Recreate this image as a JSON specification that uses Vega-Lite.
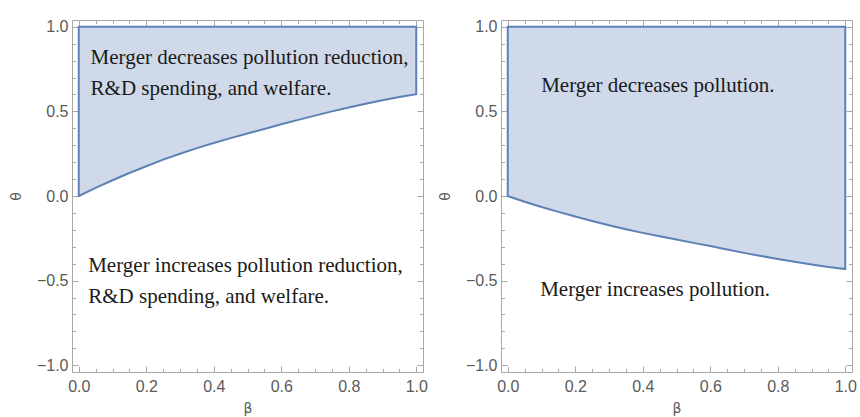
{
  "$schema": "https://vega.github.io/schema/vega-lite/v6.json",
  "background": "white",
  "padding": {"left": 8, "top": 18, "right": 0, "bottom": 0},
  "spacing": 9,
  "datasets": {
    "left": [
      {"beta": 0, "theta": 0}, {"beta": 0.05, "theta": 0.048}, {"beta": 0.1, "theta": 0.093},
      {"beta": 0.15, "theta": 0.136}, {"beta": 0.2, "theta": 0.176}, {"beta": 0.25, "theta": 0.215},
      {"beta": 0.3, "theta": 0.25}, {"beta": 0.35, "theta": 0.283}, {"beta": 0.4, "theta": 0.313},
      {"beta": 0.45, "theta": 0.342}, {"beta": 0.5, "theta": 0.369}, {"beta": 0.55, "theta": 0.396},
      {"beta": 0.6, "theta": 0.424}, {"beta": 0.65, "theta": 0.45}, {"beta": 0.7, "theta": 0.475},
      {"beta": 0.75, "theta": 0.5}, {"beta": 0.8, "theta": 0.523}, {"beta": 0.85, "theta": 0.545},
      {"beta": 0.9, "theta": 0.566}, {"beta": 0.95, "theta": 0.585}, {"beta": 1, "theta": 0.602}
    ],
    "right": [
      {"beta": 0, "theta": 0}, {"beta": 0.05, "theta": -0.034}, {"beta": 0.1, "theta": -0.065},
      {"beta": 0.15, "theta": -0.094}, {"beta": 0.2, "theta": -0.121}, {"beta": 0.25, "theta": -0.148},
      {"beta": 0.3, "theta": -0.173}, {"beta": 0.35, "theta": -0.196}, {"beta": 0.4, "theta": -0.218},
      {"beta": 0.45, "theta": -0.238}, {"beta": 0.5, "theta": -0.257}, {"beta": 0.55, "theta": -0.277},
      {"beta": 0.6, "theta": -0.296}, {"beta": 0.65, "theta": -0.316}, {"beta": 0.7, "theta": -0.336},
      {"beta": 0.75, "theta": -0.354}, {"beta": 0.8, "theta": -0.372}, {"beta": 0.85, "theta": -0.389},
      {"beta": 0.9, "theta": -0.405}, {"beta": 0.95, "theta": -0.419}, {"beta": 1, "theta": -0.432}
    ],
    "labels": [
      {"panel": "left", "beta": 0.035, "theta": 0.815, "text": "Merger decreases pollution reduction,"},
      {"panel": "left", "beta": 0.035, "theta": 0.632, "text": "R&D spending, and welfare."},
      {"panel": "left", "beta": 0.028, "theta": -0.415, "text": "Merger increases pollution reduction,"},
      {"panel": "left", "beta": 0.028, "theta": -0.598, "text": "R&D spending, and welfare."},
      {"panel": "right", "beta": 0.099, "theta": 0.648, "text": "Merger decreases pollution."},
      {"panel": "right", "beta": 0.096, "theta": -0.557, "text": "Merger increases pollution."}
    ]
  },
  "hconcat": [
    {
      "width": 351,
      "height": 352,
      "layer": [
        {
          "data": {"name": "left"},
          "mark": {"type": "area", "fill": "#CFD9E9", "stroke": "#5E81B5", "strokeWidth": 2, "strokeJoin": "miter"},
          "encoding": {
            "x": {"field": "beta", "type": "quantitative", "scale": {"domain": [-0.02, 1.02], "nice": false, "zero": false},
              "axis": {"orient": "bottom", "title": "β", "values": [0,0.05,0.1,0.15,0.2,0.25,0.3,0.35,0.4,0.45,0.5,0.55,0.6,0.65,0.7,0.75,0.8,0.85,0.9,0.95,1],
                "labelExpr": "abs(datum.value*5 - round(datum.value*5)) < 0.000001 ? format(datum.value, '.1f') : ''",
                "tickSize": {"condition": {"test": "abs(datum.value*5 - round(datum.value*5)) < 0.000001", "value": -6}, "value": -3.5},
                "labelPadding": 12, "titlePadding": 7}},
            "y": {"field": "theta", "type": "quantitative", "scale": {"domain": [-1.04, 1.04], "nice": false, "zero": false},
              "axis": {"orient": "left", "title": "θ", "values": [-1,-0.9,-0.8,-0.7,-0.6,-0.5,-0.4,-0.3,-0.2,-0.1,0,0.1,0.2,0.3,0.4,0.5,0.6,0.7,0.8,0.9,1],
                "labelExpr": "abs(datum.value*2 - round(datum.value*2)) < 0.000001 ? format(datum.value, '.1f') : ''",
                "tickSize": {"condition": {"test": "abs(datum.value*2 - round(datum.value*2)) < 0.000001", "value": -6}, "value": -3.5},
                "labelPadding": 10, "titlePadding": 13, "titleAngle": -90}},
            "y2": {"datum": 1}
          }
        },
        {
          "data": {"name": "labels"},
          "transform": [{"filter": "datum.panel === 'left'"}],
          "mark": {"type": "text", "align": "left", "baseline": "middle", "font": "Liberation Serif", "fontSize": 21, "color": "#1a1a1a"},
          "encoding": {
            "x": {"field": "beta", "type": "quantitative", "scale": {"domain": [-0.02, 1.02], "nice": false, "zero": false},
              "axis": {"orient": "top", "title": null, "labels": false, "values": [0,0.05,0.1,0.15,0.2,0.25,0.3,0.35,0.4,0.45,0.5,0.55,0.6,0.65,0.7,0.75,0.8,0.85,0.9,0.95,1],
                "tickSize": {"condition": {"test": "abs(datum.value*5 - round(datum.value*5)) < 0.000001", "value": -6}, "value": -3.5}}},
            "y": {"field": "theta", "type": "quantitative", "scale": {"domain": [-1.04, 1.04], "nice": false, "zero": false},
              "axis": {"orient": "right", "title": null, "labels": false, "values": [-1,-0.9,-0.8,-0.7,-0.6,-0.5,-0.4,-0.3,-0.2,-0.1,0,0.1,0.2,0.3,0.4,0.5,0.6,0.7,0.8,0.9,1],
                "tickSize": {"condition": {"test": "abs(datum.value*2 - round(datum.value*2)) < 0.000001", "value": -6}, "value": -3.5}}},
            "text": {"field": "text"}
          }
        }
      ],
      "resolve": {"axis": {"x": "independent", "y": "independent"}}
    },
    {
      "width": 351,
      "height": 352,
      "layer": [
        {
          "data": {"name": "right"},
          "mark": {"type": "area", "fill": "#CFD9E9", "stroke": "#5E81B5", "strokeWidth": 2, "strokeJoin": "miter"},
          "encoding": {
            "x": {"field": "beta", "type": "quantitative", "scale": {"domain": [-0.02, 1.02], "nice": false, "zero": false},
              "axis": {"orient": "bottom", "title": "β", "values": [0,0.05,0.1,0.15,0.2,0.25,0.3,0.35,0.4,0.45,0.5,0.55,0.6,0.65,0.7,0.75,0.8,0.85,0.9,0.95,1],
                "labelExpr": "abs(datum.value*5 - round(datum.value*5)) < 0.000001 ? format(datum.value, '.1f') : ''",
                "tickSize": {"condition": {"test": "abs(datum.value*5 - round(datum.value*5)) < 0.000001", "value": -6}, "value": -3.5},
                "labelPadding": 12, "titlePadding": 7}},
            "y": {"field": "theta", "type": "quantitative", "scale": {"domain": [-1.04, 1.04], "nice": false, "zero": false},
              "axis": {"orient": "left", "title": "θ", "values": [-1,-0.9,-0.8,-0.7,-0.6,-0.5,-0.4,-0.3,-0.2,-0.1,0,0.1,0.2,0.3,0.4,0.5,0.6,0.7,0.8,0.9,1],
                "labelExpr": "abs(datum.value*2 - round(datum.value*2)) < 0.000001 ? format(datum.value, '.1f') : ''",
                "tickSize": {"condition": {"test": "abs(datum.value*2 - round(datum.value*2)) < 0.000001", "value": -6}, "value": -3.5},
                "labelPadding": 10, "titlePadding": 13, "titleAngle": -90}},
            "y2": {"datum": 1}
          }
        },
        {
          "data": {"name": "labels"},
          "transform": [{"filter": "datum.panel === 'right'"}],
          "mark": {"type": "text", "align": "left", "baseline": "middle", "font": "Liberation Serif", "fontSize": 21, "color": "#1a1a1a"},
          "encoding": {
            "x": {"field": "beta", "type": "quantitative", "scale": {"domain": [-0.02, 1.02], "nice": false, "zero": false},
              "axis": {"orient": "top", "title": null, "labels": false, "values": [0,0.05,0.1,0.15,0.2,0.25,0.3,0.35,0.4,0.45,0.5,0.55,0.6,0.65,0.7,0.75,0.8,0.85,0.9,0.95,1],
                "tickSize": {"condition": {"test": "abs(datum.value*5 - round(datum.value*5)) < 0.000001", "value": -6}, "value": -3.5}}},
            "y": {"field": "theta", "type": "quantitative", "scale": {"domain": [-1.04, 1.04], "nice": false, "zero": false},
              "axis": {"orient": "right", "title": null, "labels": false, "values": [-1,-0.9,-0.8,-0.7,-0.6,-0.5,-0.4,-0.3,-0.2,-0.1,0,0.1,0.2,0.3,0.4,0.5,0.6,0.7,0.8,0.9,1],
                "tickSize": {"condition": {"test": "abs(datum.value*2 - round(datum.value*2)) < 0.000001", "value": -6}, "value": -3.5}}},
            "text": {"field": "text"}
          }
        }
      ],
      "resolve": {"axis": {"x": "independent", "y": "independent"}}
    }
  ],
  "config": {
    "view": {"stroke": "#a8a8a8", "strokeWidth": 1},
    "axis": {
      "domain": false, "grid": false, "tickColor": "#a8a8a8", "tickWidth": 1,
      "labelFont": "Liberation Sans", "labelFontSize": 16, "labelColor": "#5a5a5a",
      "titleFont": "DejaVu Sans", "titleFontSize": 14, "titleFontWeight": "normal", "titleColor": "#5a5a5a",
      "minExtent": 0
    }
  }
}
